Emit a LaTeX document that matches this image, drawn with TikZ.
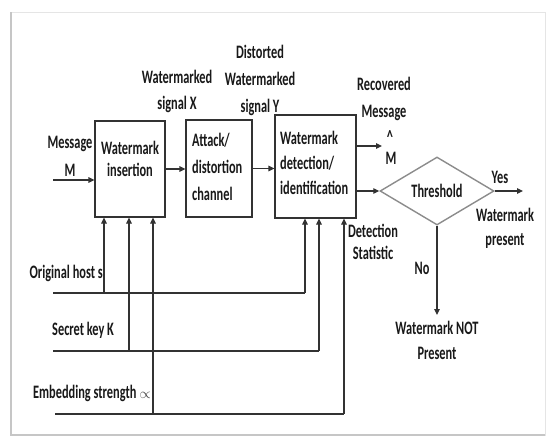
\documentclass[tikz,border=0pt]{standalone}
\usepackage{fontspec}
\newfontfamily\diagfont[FakeStretch=0.65]{Carlito}
\usetikzlibrary{positioning,calc,shapes.geometric,arrows.meta}
\definecolor{lineink}{RGB}{50,50,50}
\definecolor{textink}{RGB}{25,25,25}

\begin{document}
\begin{tikzpicture}[x=1pt,y=-1pt,
  blk/.style={draw=lineink, line width=1.1pt, inner sep=0pt},
  lbl/.style={text=textink, font=\diagfont\bfseries\fontsize{19}{25}\selectfont,
    align=center, inner sep=0pt},
  arr/.style={draw=lineink, line width=1.1pt, -{Triangle[length=6pt,width=5.5pt]}},
  feed/.style={draw=lineink, line width=1.1pt},
  decide/.style={diamond, draw=gray!90, line width=1.4pt, inner sep=0pt,
    text=textink, font=\diagfont\bfseries\fontsize{19}{25}\selectfont}
  ]
  \useasboundingbox (0,0) rectangle (546,437);
  % page frame with shadow
  \fill[white] (11,12) rectangle (545,435);
  \draw[gray!20, line width=0.8pt] (11,12) rectangle (545,435);
  \draw[gray!45, line width=2pt] (11,12) -- (11,435) -- (545,435);

  % blocks
  \node[blk, minimum width=70pt, minimum height=96pt] (ins) at (130,169) {};
  \node[blk, minimum width=66pt, minimum height=97pt] (chan) at (219,168.5) {};
  \node[blk, minimum width=81pt, minimum height=103pt] (det) at (315.5,166.5) {};
  \node[decide, minimum width=114pt, minimum height=68pt] (thr) at (437,191) {Threshold};

  % block texts
  \node[lbl, font=\diagfont\bfseries\fontsize{19}{22}\selectfont] (insT) at (130,159) {Watermark\\insertion};
  \node[lbl, anchor=west, align=left, font=\diagfont\bfseries\fontsize{19}{27}\selectfont] (chanT) at (192,167) {Attack/\\distortion\\channel};
  \node[lbl, anchor=west, align=left] (detT) at (280,162.5) {Watermark\\detection/\\identification};

  % signal labels
  \node[lbl, font=\diagfont\bfseries\fontsize{19}{28}\selectfont] (msgT) at (70,156) {Message\\M};
  \node[lbl, font=\diagfont\bfseries\fontsize{19}{26}\selectfont] (sigX) at (177,91) {Watermarked\\signal X};
  \node[lbl, font=\diagfont\bfseries\fontsize{19}{27}\selectfont] (sigY) at (260,80) {Distorted\\Watermarked\\signal Y};
  \node[lbl, font=\diagfont\bfseries\fontsize{19}{27}\selectfont] (recT) at (384,98.5) {Recovered\\Message};
  \node[lbl] (hatT) at (390,137) {\textasciicircum};
  \node[lbl] (mT) at (391,158) {M};
  \node[lbl, font=\diagfont\bfseries\fontsize{19}{22}\selectfont] (statT) at (373,242) {Detection\\Statistic};
  \node[lbl] (yesT) at (500,177) {Yes};
  \node[lbl, font=\diagfont\bfseries\fontsize{19}{24}\selectfont] (presT) at (505,228) {Watermark\\present};
  \node[lbl] (noT) at (422,268) {No};
  \node[lbl] (notT) at (437,340.5) {Watermark NOT\\Present};

  % side inputs
  \node[lbl, anchor=east] (hostT) at (103,273) {Original host s};
  \node[lbl, anchor=west] (keyT) at (52,330) {Secret key K};
  \node[lbl, anchor=east] (embT) at (151,393) {Embedding strength\,{\normalfont\color{darkgray}\fontsize{14}{14}\selectfont$\propto$}};

  \coordinate (hostL) at (53,293);
  \coordinate (hostA) at (104,293);
  \coordinate (hostB) at (305,293);
  \coordinate (keyL) at (53,351);
  \coordinate (keyA) at (129,351);
  \coordinate (keyB) at (319,351);
  \coordinate (embL) at (55,414);
  \coordinate (embA) at (153,414);
  \coordinate (embB) at (344,414);

  \draw[feed] (hostL) -- (hostB);
  \draw[feed] (keyL) -- (keyB);
  \draw[feed] (embL) -- (embB);
  \draw[arr] (hostA) -- (hostA |- ins.south);
  \draw[arr] (keyA) -- (keyA |- ins.south);
  \draw[arr] (embA) -- (embA |- ins.south);
  \draw[arr] (hostB) -- (hostB |- det.south);
  \draw[arr] (keyB) -- (keyB |- det.south);
  \draw[arr] (embB) -- (embB |- det.south);

  % main flow
  \coordinate (msgL) at (53,180);
  \coordinate (recEnd) at (382,146);
  \coordinate (yesEnd) at (523,191);
  \coordinate (noEnd) at (437,315);
  \draw[arr] (msgL) -- (msgL -| ins.west);
  \draw[arr] (ins.east) -- (ins.east -| chan.west);
  \draw[arr] (chan.east) -- (chan.east -| det.west);
  \draw[arr] (recEnd -| det.east) -- (recEnd);
  \draw[arr] (thr.west -| det.east) -- (thr.west);
  \draw[arr] (thr.east) -- (yesEnd);
  \draw[arr] (thr.south) -- (noEnd);
\end{tikzpicture}
\end{document}
